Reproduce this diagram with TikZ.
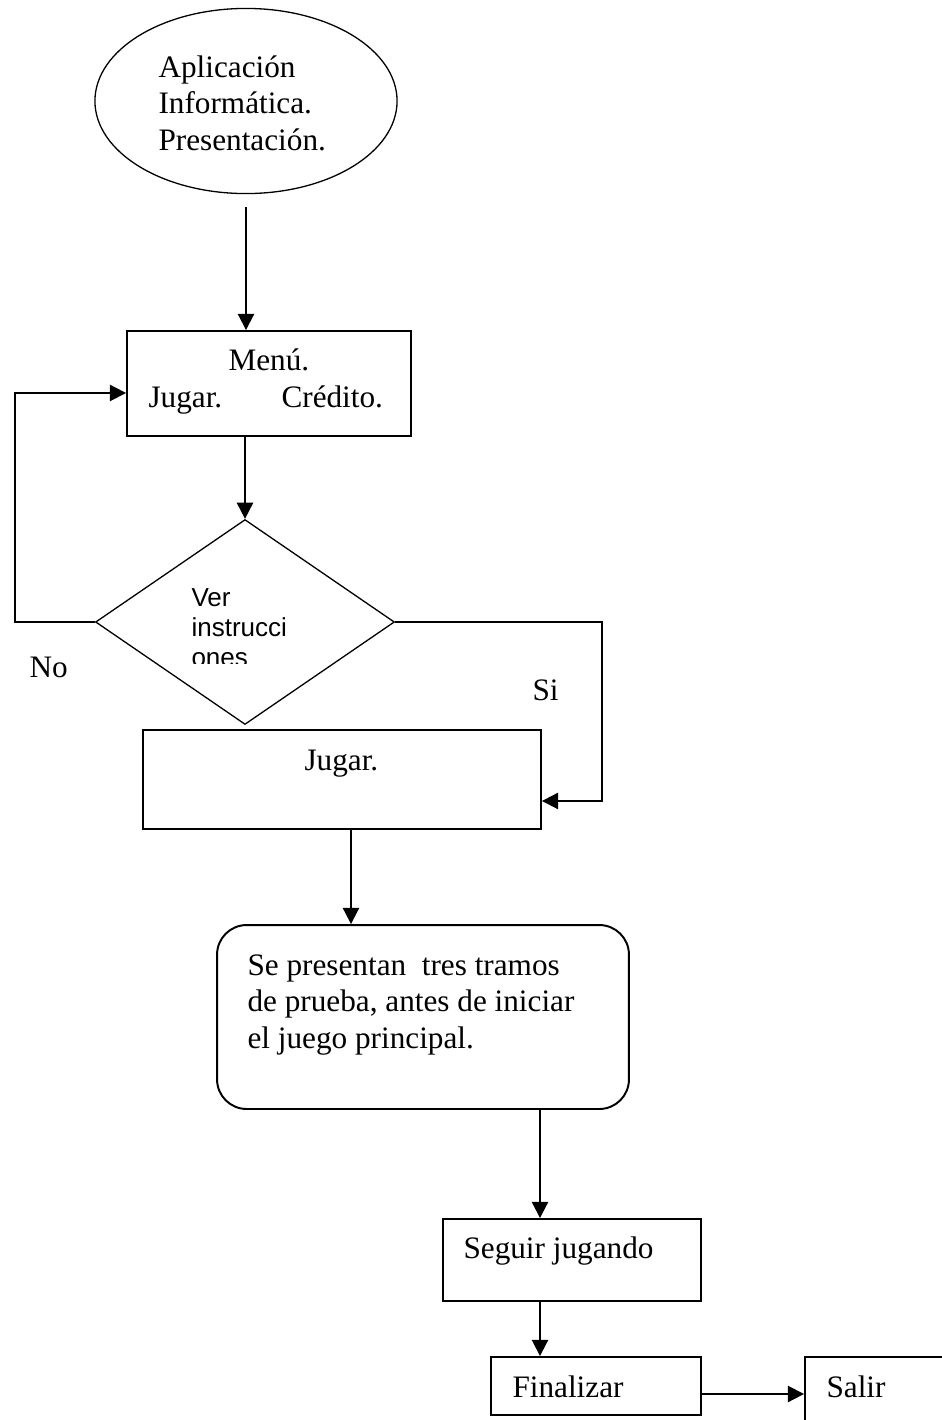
\documentclass[tikz,border=0pt]{standalone}
\usepackage{fontspec}
\setmainfont{Liberation Serif}
\newfontfamily\arialfont{Liberation Sans}
\usetikzlibrary{arrows.meta, calc, shapes.geometric, positioning}

\begin{document}
\begin{tikzpicture}[x=0.0135cm, y=-0.0135cm, font=\fontsize{12}{14}\selectfont,
    box/.style = {draw, rectangle, line width=0.75pt, inner sep=0pt},
    lbl/.style = {anchor=base west, inner sep=0pt},
    arr/.style = {-{Triangle[length=2.2mm,width=2.2mm]}, line width=0.75pt}]
      \useasboundingbox (0,0) rectangle (942,1420);

      \node[draw, ellipse, line width=0.5pt, minimum width=4.08cm, minimum height=2.5cm] (app) at (246,101) {};
      \node[box, minimum width=3.834cm, minimum height=1.4175cm] (menu) at (269,383.5) {};
      \node[draw, diamond, line width=0.5pt, inner sep=0pt, minimum width=4.0365cm, minimum height=2.7675cm] (dia) at (245,622) {};
      \node[box, minimum width=5.373cm, minimum height=1.3365cm] (jugar) at (342,779.5) {};
      \node[box, rounded corners=0.4cm, minimum width=5.562cm, minimum height=2.484cm] (prueba) at (423,1017) {};
      \node[box, minimum width=3.483cm, minimum height=1.107cm] (seguir) at (572,1260) {};
      \node[box, minimum width=2.835cm, minimum height=0.783cm] (final) at (596,1386) {};
      \node[box, minimum width=2.7cm, minimum height=1.161cm] (salir) at (905,1400) {};

      % texts
      \node[lbl, align=left] (appt) at (158,150) {Aplicación\\Informática.\\Presentación.};
      \node[lbl] (menut) at (228,370) {Menú.};
      \node[lbl] (jugart) at (148,407) {Jugar.};
      \node[lbl] (credt) at (281,407) {Crédito.};
      \begin{scope}
        \clip (150,560) rectangle (340,663);
        \node[lbl, align=left, font=\arialfont\fontsize{10}{11.4}\selectfont] (vert) at (191,666) {Ver\\instrucci\\ones};
      \end{scope}
      \node[lbl] (no) at (29,677) {No};
      \node[lbl] (si) at (532,700) {Si};
      \node[lbl] (jugar2t) at (304,770) {Jugar.};
      \node[lbl, align=left] (pruebat) at (247,1048) {Se presentan\ \ tres tramos\\de prueba, antes de iniciar\\el juego principal.};
      \node[lbl] (seguirt) at (463,1258) {Seguir jugando};
      \node[lbl] (finalt) at (512,1397) {Finalizar};
      \node[lbl] (salirt) at (826,1397) {Salir};

      % connectors
      \draw[arr] ([yshift=-0.1755cm]app.south) -- (app.south |- menu.north);
      \draw[arr] (dia.north |- menu.south) -- (dia.north);
      \draw[arr] (dia.west) -- ++(-80,0) |- ([yshift=-0.128cm]menu.west);
      \draw[arr] (dia.east) -- ++(207,0) |- ([yshift=-0.29cm]jugar.east);
      \draw[arr] ([xshift=0.1215cm]jugar.south) -- ([xshift=0.1215cm]jugar.south |- prueba.north);
      \draw[arr] ([xshift=-0.432cm]seguir.north |- prueba.south) -- ([xshift=-0.432cm]seguir.north);
      \draw[arr] ([xshift=-0.432cm]seguir.south) -- ([xshift=-0.432cm]seguir.south |- final.north);
      \draw[arr] ([yshift=-0.108cm]final.east) -- ([yshift=-0.108cm]final.east -| salir.west);
\end{tikzpicture}
\end{document}
